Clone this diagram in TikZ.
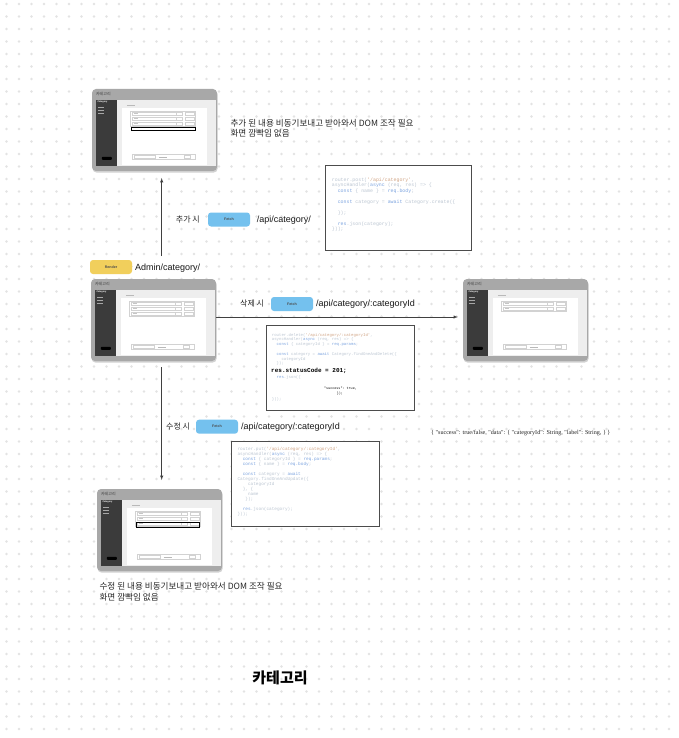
\documentclass[tikz,border=0pt]{standalone}
\usepackage{fontspec}
\setmainfont{Liberation Sans}
\setmonofont{Liberation Mono}
\newfontfamily\krfont{Noto Sans CJK KR}
\newfontfamily\jsonfont{Liberation Serif}
\usetikzlibrary{shadows}

\definecolor{dotgray}{HTML}{E3E3E3}
\definecolor{framegray}{HTML}{A8A8A8}
\definecolor{winbg}{HTML}{EEEEEE}
\definecolor{sidebar}{HTML}{3B3B3B}
\definecolor{fetchblue}{HTML}{74C1EE}
\definecolor{renderyellow}{HTML}{F1CF5C}
\definecolor{codegray}{HTML}{BCC6D2}
\definecolor{codekw}{HTML}{7EA5E0}
\definecolor{codestr}{HTML}{D1A586}

\newcommand{\ckw}[1]{\textcolor{codekw}{#1}}
\newcommand{\cstr}[1]{\textcolor{codestr}{#1}}

% inside of one admin screenshot: #1 frame node, #2 number of rows
\newcommand{\shotbody}[2]{%
  \begin{scope}[shift={(#1.north west)}]
    \node[shottitle] (#1-title) at (4,5) {카테고리};
    \fill[winbg] (4,11) rectangle (124.5,77);
    \fill[sidebar] (4,11) rectangle (25,77);
    \node[sidetext] (#1-side) at (5.5,13.5) {Category};
    \foreach \k in {0,1,2}
      \draw[menuline] (6,{18+3*\k}) -- (12,{18+3*\k});
    \fill[black, rounded corners=0.8pt] (10,68) rectangle (20,71);
    \draw[line width=0.5pt, gray!55] (35,16) -- (43,16);
    \fill[white] (30,19) rectangle (115,76);
    \draw[rowline] (38.7,22) rectangle (103,{22.5+5*#2});
    \foreach \k in {1,...,#2} {
      \draw[rowline] (40,{18+5*\k}) rectangle (84,{21.3+5*\k});
      \draw[rowline] (84.7,{18+5*\k}) rectangle (90.3,{21.3+5*\k});
      \draw[rowline] (93.7,{18+5*\k}) rectangle (102,{21.3+5*\k});
      \draw[line width=0.4pt, gray!45] (42,{19.7+5*\k}) -- (46,{19.7+5*\k});
    }
    \draw[rowline] (40,65.5) rectangle (103,70.5);
    \draw[rowline] (42.7,66.7) rectangle (63.7,69.7);
    \draw[line width=0.4pt, gray!55] (67,68.2) -- (75,68.2);
    \draw[rowline] (92.7,66.7) rectangle (98.7,69.7);
  \end{scope}}

\begin{document}
\begin{tikzpicture}[x=1pt, y=-1pt,
    shot/.style={rounded corners=4pt, fill=framegray, minimum width=125pt, minimum height=82pt, inner sep=0,
      drop shadow={shadow xshift=0.6pt, shadow yshift=-1.6pt, fill=black, opacity=0.18}},
    shottitle/.style={anchor=west, inner sep=0, font=\krfont\fontsize{4}{4}\selectfont, text=black!75},
    sidetext/.style={anchor=west, inner sep=0, font=\bfseries\fontsize{2.3}{2.5}\selectfont, text=white},
    menuline/.style={line width=0.5pt, white!55!sidebar},
    rowline/.style={line width=0.3pt, draw=gray!35},
    highlight/.style={draw=black, line width=0.6pt},
    fetchbtn/.style={rounded corners=3pt, fill=fetchblue, minimum width=42pt, minimum height=14pt, inner sep=0,
      font=\bfseries\fontsize{3.6}{4}\selectfont, text=black!70},
    renderbtn/.style={fetchbtn, fill=renderyellow},
    krlabel/.style={anchor=west, inner sep=0, font=\krfont\fontsize{8}{9}\selectfont, text=black!85},
    apilabel/.style={anchor=west, inner sep=0, font=\fontsize{9}{10}\selectfont, text=black!90},
    note/.style={anchor=base west, inner sep=0, font=\krfont\fontsize{8.6}{9}\selectfont, text=black!85},
    codebox/.style={draw=black!70, line width=0.8pt, fill=white, inner sep=0},
    code/.style={anchor=north west, inner sep=0, align=left, text=codegray},
    flow/.style={->, >=latex, draw=black!75, line width=0.5pt}]
  \useasboundingbox (0,0) rectangle (678,738);
  \fill[white] (0,0) rectangle (678,738);
  \foreach \i in {0,...,53}
    \foreach \j in {0,...,58}
      \fill[dotgray] ({6.5+12.5*\i},{4+12.5*\j}) circle (1.3pt);

  % screenshots
  \node[shot] (shotTop) at (154.5,130) {};
  \shotbody{shotTop}{3}
  \draw[highlight] ([shift={(39.7,38.7)}]shotTop.north west) rectangle ([shift={(103,42)}]shotTop.north west);
  \node[shot] (shotMid) at (153.5,320) {};
  \shotbody{shotMid}{3}
  \node[shot] (shotRight) at (525.5,320) {};
  \shotbody{shotRight}{2}
  \node[shot] (shotBot) at (159.5,530) {};
  \shotbody{shotBot}{3}
  \draw[highlight] ([shift={(39,33.7)}]shotBot.north west) rectangle ([shift={(102.3,38.3)}]shotBot.north west);

  % notes
  \node[note] (noteAdd1) at (230.3,127) {추가 된 내용 비동기보내고 받아와서 DOM 조작 필요};
  \node[note] (noteAdd2) at (230.3,136.5) {화면 깜빡임 없음};
  \node[note] (noteEdit1) at (99.3,589.7) {수정 된 내용 비동기보내고 받아와서 DOM 조작 필요};
  \node[note] (noteEdit2) at (99.3,600) {화면 깜빡임 없음};

  % requests
  \node[krlabel] (addLabel) at (175.7,219.7) {추가 시};
  \node[fetchbtn] (fetchAdd) at (229,219.5) {Fetch};
  \node[apilabel] (apiAdd) at (256.7,220) {/api/category/};
  \node[renderbtn] (render) at (111,267) {Render};
  \node[apilabel] (apiAdmin) at (135,268) {Admin/category/};
  \node[krlabel] (delLabel) at (240,304) {삭제 시};
  \node[fetchbtn] (fetchDel) at (292,304) {Fetch};
  \node[apilabel] (apiDel) at (316,304) {/api/category/:categoryId};
  \node[krlabel] (editLabel) at (166,426.7) {수정 시};
  \node[fetchbtn] (fetchEdit) at (217,426.7) {Fetch};
  \node[apilabel] (apiEdit) at (241,427) {/api/category/:categoryId};

  % arrows
  \coordinate (addFrom) at (161.7,256);
  \coordinate (addTo) at (161.7,178);
  \draw[flow] (addFrom) -- (addTo);
  \draw[flow] ([yshift=3pt]shotMid.east) -- ([xshift=-5pt,yshift=3pt]shotRight.west);
  \coordinate (editFrom) at (161.7,367);
  \coordinate (editTo) at (161.7,480);
  \draw[flow] (editFrom) -- (editTo);

  % code for add
  \node[codebox, minimum width=146.7pt, minimum height=85.7pt] (boxAdd) at (398.3,207.9) {};
  \node[code, font=\ttfamily\fontsize{4.9}{5.5}\selectfont] (codeAdd) at (331.7,177.5) {%
    router.post(\cstr{'/api/category'},\\
    asyncHandler(\ckw{async} (req, res) => \{\\
    ~~\ckw{const} \{ name \} = \ckw{req.body};\\
    \\
    ~~\ckw{const} category = \ckw{await} Category.create(\{\\
    \\
    ~~\});\\
    \\
    ~~\ckw{res}.json(category);\\
    \}));};

  % code for delete
  \node[codebox, minimum width=148pt, minimum height=85pt] (boxDel) at (340,368.2) {};
  \node[code, font=\ttfamily\fontsize{4}{4.8}\selectfont] (codeDel) at (271.7,333) {%
    router.delete(\cstr{'/api/category/:categoryId'},\\
    asyncHandler(\ckw{async} (req, res) => \{\\
    ~~\ckw{const} \{ categoryId \} = \ckw{req.params};\\
    \\
    ~~\ckw{const} category = \ckw{await} Category.findOneAndDelete(\{\\
    ~~~~categoryId\\
    ~~\});};
  \node[anchor=base west, inner sep=0, font=\ttfamily\bfseries\fontsize{6}{7}\selectfont] (delStatus) at (271,372) {res.statusCode = 201;};
  \node[anchor=base west, inner sep=0, text=codegray, font=\ttfamily\fontsize{4}{4.8}\selectfont] (delJson) at (271.7,378.2) {~~\ckw{res}.json(\{};
  \node[anchor=base west, inner sep=0, font=\ttfamily\fontsize{3.4}{4}\selectfont] (delSuccess) at (324,389.5) {"success": true,};
  \node[anchor=base west, inner sep=0, font=\ttfamily\fontsize{3.4}{4}\selectfont] (delClose) at (336.7,394.5) {\});};
  \node[anchor=base west, inner sep=0, text=codegray, font=\ttfamily\fontsize{4}{4.8}\selectfont] (delEnd) at (271.7,400.2) {\}));};

  % code for edit
  \node[codebox, minimum width=148pt, minimum height=85.7pt] (boxEdit) at (305,483.8) {};
  \node[code, font=\ttfamily\fontsize{4.4}{5}\selectfont] (codeEdit) at (237.3,447.2) {%
    router.put(\cstr{'/api/category/:categoryId'},\\
    asyncHandler(\ckw{async} (req, res) => \{\\
    ~~\ckw{const} \{ categoryId \} = \ckw{req.params};\\
    ~~\ckw{const} \{ name \} = \ckw{req.body};\\
    \\
    ~~\ckw{const} category = \ckw{await}\\
    Category.findOneAndUpdate(\{\\
    ~~~~categoryId\\
    ~~\}, \{\\
    ~~~~name\\
    ~~~\});\\
    \\
    ~~\ckw{res}.json(category);\\
    \}));};

  % response
  \node[anchor=west, inner sep=0, font=\jsonfont\fontsize{6.1}{7}\selectfont, text=black!85] (json) at (431,433.3)
    {\{ "success": true/false, "data": \{ "categoryId": String, "label": String, \} \}};

  \node[inner sep=0, font=\krfont\bfseries\fontsize{15}{16}\selectfont] (title) at (280,678) {카테고리};
\end{tikzpicture}
\end{document}
